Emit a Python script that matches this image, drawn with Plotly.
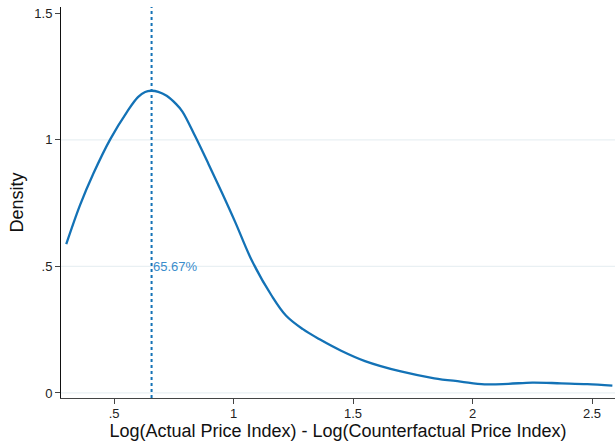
import plotly.graph_objects as go

# Kernel density of the log price-index gap
gap_x = [0.30, 0.358, 0.414, 0.485, 0.555, 0.600, 0.630, 0.655, 0.685, 0.720,
         0.760, 0.786, 0.839, 0.895, 0.951, 1.007, 1.077, 1.159, 1.22, 1.29,
         1.36, 1.45, 1.55, 1.70, 1.84, 1.95, 2.05, 2.15, 2.25, 2.37,
         2.48, 2.585]
density_y = [0.588, 0.743, 0.868, 1.004, 1.112, 1.169, 1.189, 1.194, 1.190, 1.174,
             1.141, 1.112, 1.015, 0.905, 0.792, 0.675, 0.522, 0.385, 0.305, 0.252,
             0.212, 0.167, 0.126, 0.085, 0.058, 0.045, 0.034, 0.036, 0.041, 0.038,
             0.035, 0.029]

# Mode marker and its label
mode_x = 0.657
mode_label = "65.67%"
label_y = 0.5

x_ticks = [0.5, 1, 1.5, 2, 2.5]
x_tick_text = [".5", "1", "1.5", "2", "2.5"]
y_ticks = [0, 0.5, 1, 1.5]
y_tick_text = ["0", ".5", "1", "1.5"]
grid_levels = [0, 0.5, 1]

line_color = "#1372b6"
font_family = "Liberation Sans, Arial, Helvetica, sans-serif"

fig = go.Figure()

for g in grid_levels:
    fig.add_shape(type="line", xref="paper", yref="y", x0=0, x1=1, y0=g, y1=g,
                  line=dict(color="#e9f0f3", width=1.2), layer="below")

fig.add_trace(go.Scatter(
    x=gap_x, y=density_y, mode="lines",
    line=dict(color=line_color, width=2.3, shape="spline", smoothing=1.0),
    showlegend=False, hoverinfo="skip",
))

fig.add_shape(type="line", xref="x", yref="paper",
              x0=mode_x, x1=mode_x, y0=0, y1=1,
              line=dict(color=line_color, width=2, dash="3px,3px"))

fig.add_annotation(x=mode_x, y=label_y, xref="x", yref="y",
                   text=mode_label, showarrow=False,
                   xanchor="left", yanchor="middle", xshift=-1,
                   font=dict(family=font_family, size=13, color="#3a8dcc"))

fig.update_layout(
    width=615, height=442,
    margin=dict(l=61, r=0, t=7, b=44),
    paper_bgcolor="white", plot_bgcolor="white",
    font=dict(family=font_family, size=13, color="#222"),
    xaxis=dict(
        range=[0.278, 2.596],
        tickvals=x_ticks, ticktext=x_tick_text,
        ticks="outside", ticklen=5, tickcolor="#444", tickwidth=1,
        showline=True, linecolor="#444", linewidth=1,
        showgrid=False, zeroline=False,
        tickfont=dict(size=13, color="#222"),
        ticklabelstandoff=-2,
        title=dict(text="Log(Actual Price Index) - Log(Counterfactual Price Index)",
                   font=dict(size=18, color="#111"), standoff=3),
    ),
    yaxis=dict(
        range=[-0.02, 1.525],
        tickvals=y_ticks, ticktext=y_tick_text,
        ticks="outside", ticklen=5, tickcolor="#444", tickwidth=1,
        showline=True, linecolor="#111", linewidth=1,
        showgrid=False, zeroline=False,
        tickfont=dict(size=13, color="#222"),
        title=dict(text="Density", font=dict(size=18, color="#111"), standoff=6),
    ),
)

fig.write_html("out.html")
